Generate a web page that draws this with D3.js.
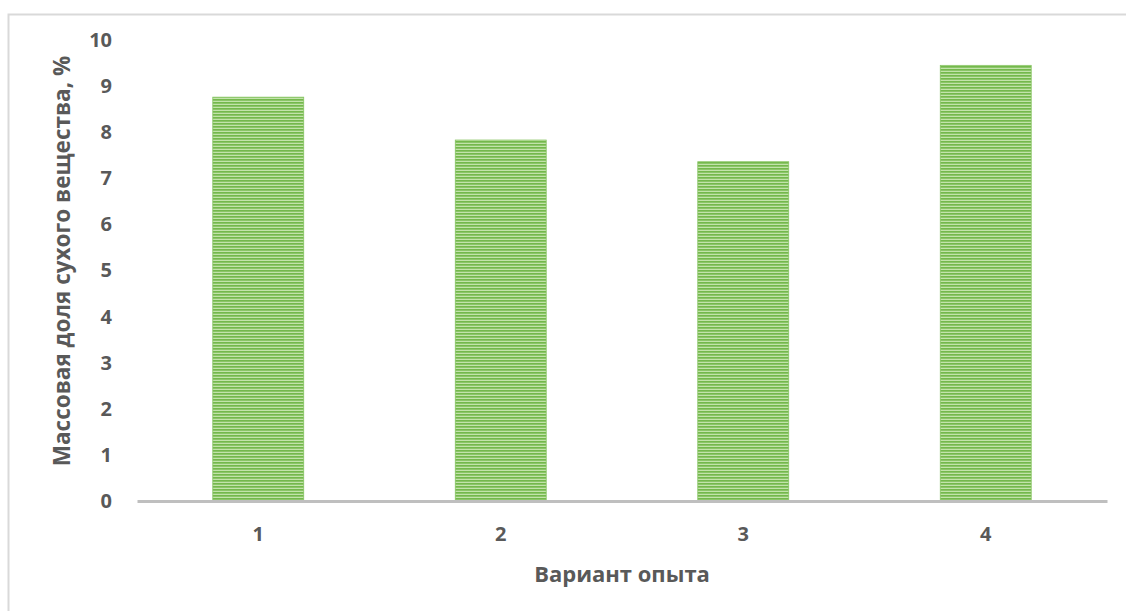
<!DOCTYPE html>
<html><head><meta charset="utf-8">
<script src="https://cdn.jsdelivr.net/npm/d3@7"></script>
<style>body{margin:0;background:#fff}svg{display:block}</style>
</head><body>
<script>
const categories = ["1","2","3","4"];
const values = [8.76, 7.83, 7.36, 9.45];
const yTicks = [0,1,2,3,4,5,6,7,8,9,10];
const xTitle = "Вариант опыта";
const yTitle = "Массовая доля сухого вещества, %";

const W = 1126, H = 611;
const svg = d3.select("body").append("svg").attr("width", W).attr("height", H);
svg.append("rect").attr("x", 8.5).attr("y", 14.5).attr("width", W + 20).attr("height", H + 20)
  .attr("fill", "#fff").attr("stroke", "#d9d9d9").attr("stroke-width", 2);

const defs = svg.append("defs");
const pat = defs.append("pattern").attr("id", "stripes").attr("patternUnits", "userSpaceOnUse")
  .attr("width", 10).attr("height", 3);
pat.append("rect").attr("width", 10).attr("height", 3).attr("fill", "#c2e3aa");
pat.append("rect").attr("width", 10).attr("height", 1.7).attr("fill", "#74b84c");

const x = d3.scaleBand().domain(categories).range([137, 1107]).paddingInner(0.625).paddingOuter(0.3125);
const y = d3.scaleLinear().domain([0, 10]).range([501, 40]);

const font = "'Open Sans', 'Liberation Sans', sans-serif";

svg.selectAll("rect.bar").data(values).join("rect").attr("class", "bar")
  .attr("x", (d, i) => x(categories[i])).attr("width", x.bandwidth())
  .attr("y", d => y(d)).attr("height", d => y(0) - y(d))
  .attr("fill", "url(#stripes)").attr("stroke", "#86c462").attr("stroke-width", 0.8);

const yAxis = svg.append("g").attr("transform", "translate(137,0)")
  .call(d3.axisLeft(y).tickValues(yTicks).tickSize(0).tickPadding(25));
yAxis.select(".domain").remove();
yAxis.selectAll("text").attr("font-family", font).attr("font-weight", "bold")
  .attr("font-size", 20).attr("fill", "#595959");

const xAxis = svg.append("g").attr("transform", "translate(0,501)")
  .call(d3.axisBottom(x).tickSize(0).tickPadding(26));
xAxis.select(".domain").attr("stroke", "#bfbfbf").attr("stroke-width", 3);
xAxis.selectAll("text").attr("font-family", font).attr("font-weight", "bold")
  .attr("font-size", 20).attr("fill", "#595959");

svg.append("text").attr("x", 622).attr("y", 582).attr("text-anchor", "middle")
  .attr("font-family", font).attr("font-weight", "bold").attr("font-size", 22).attr("fill", "#595959")
  .text(xTitle);
svg.append("text").attr("transform", "translate(70,261) rotate(-90)").attr("text-anchor", "middle")
  .attr("font-family", font).attr("font-weight", "bold").attr("font-size", 22.5).attr("fill", "#595959")
  .text(yTitle);
</script>
</body></html>
